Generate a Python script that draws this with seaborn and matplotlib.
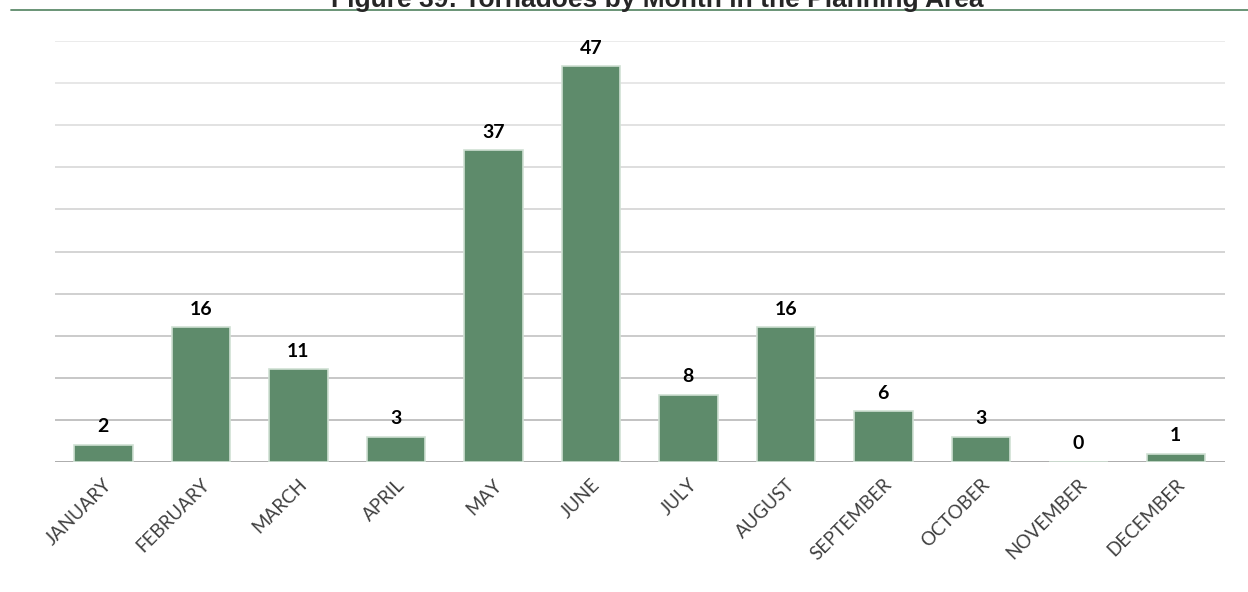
import matplotlib
matplotlib.use("Agg")
import matplotlib.pyplot as plt
import seaborn as sns
import pandas as pd
import numpy as np
from matplotlib.lines import Line2D

months = ["JANUARY", "FEBRUARY", "MARCH", "APRIL", "MAY", "JUNE",
          "JULY", "AUGUST", "SEPTEMBER", "OCTOBER", "NOVEMBER", "DECEMBER"]
tornadoes = [2, 16, 11, 3, 37, 47, 8, 16, 6, 3, 0, 1]
title = "Figure 39: Tornadoes by Month in the Planning Area"

df = pd.DataFrame({"month": months, "count": tornadoes})

sns.set_theme(style="white")
plt.rcParams["font.family"] = ["Lato", "DejaVu Sans"]

BAR = "#5e8b6b"
fig = plt.figure(figsize=(12.48, 5.92), dpi=100)
ax = fig.add_axes([0.0437, 0.2196, 0.9375, 0.7111])

# horizontal gridlines, lighter toward the top
levels = np.arange(5, 55, 5)
greys = np.linspace(0.72, 0.91, len(levels))
for lv, g in zip(levels, greys):
    ax.axhline(lv, color=str(g), lw=1.2, zorder=0)
ax.axhline(0, color="#a6a6a6", lw=1.3, zorder=0)

sns.barplot(data=df, x="month", y="count", color=BAR, width=0.6,
            edgecolor="#cfe0d3", linewidth=1.2, saturation=1, ax=ax, zorder=2)

for i, v in enumerate(tornadoes):
    ax.annotate(str(v), (i, v), xytext=(0, 7), textcoords="offset points",
                ha="center", va="bottom", fontsize=14, fontweight="bold",
                color="black")

ax.set_ylim(0, 50)
ax.set_xlim(-0.5, len(months) - 0.5)
ax.set_yticks([])
ax.set_xlabel("")
ax.set_ylabel("")
for s in ax.spines.values():
    s.set_visible(False)
ax.tick_params(axis="x", length=0, pad=10)
plt.setp(ax.get_xticklabels(), rotation=45, ha="right", rotation_mode="anchor",
         fontsize=13.5, color="#404040")

fig.text(0.527, 0.988, title, ha="center", va="baseline", fontsize=19,
         fontweight="bold", family=["Liberation Sans", "DejaVu Sans"])
fig.add_artist(Line2D([11 / 1248, 1.0], [1 - 10.3 / 592] * 2,
                      transform=fig.transFigure, color=BAR, lw=1.3))

fig.savefig("out.png", dpi=100)
